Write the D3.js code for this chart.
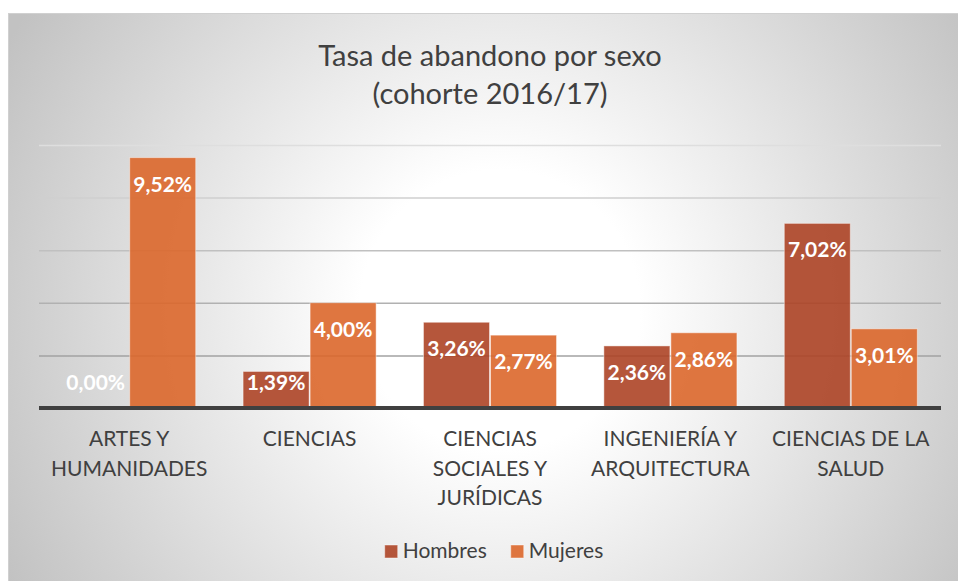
<!DOCTYPE html>
<html>
<head>
<meta charset="utf-8">
<script src="https://cdn.jsdelivr.net/npm/d3@7"></script>
<style>
  html, body { margin: 0; padding: 0; background: #fff; }
  svg { display: block; font-family: Lato, "Open Sans", sans-serif; }
</style>
</head>
<body>
<div id="chart"></div>
<script>
// values (percent)
const categories = ['ARTES Y\nHUMANIDADES', 'CIENCIAS', 'CIENCIAS\nSOCIALES Y\nJURÍDICAS', 'INGENIERÍA Y\nARQUITECTURA', 'CIENCIAS DE LA\nSALUD'];
const seriesNames = ['Hombres', 'Mujeres'];
const hombres = [0.00, 1.39, 3.26, 2.36, 7.02];
const mujeres = [9.52, 4.00, 2.77, 2.86, 3.01];
const gridTicks = [0, 2, 4, 6, 8, 10];
const titleLines = ['Tasa de abandono por sexo', '(cohorte 2016/17)'];

class GroupedBars {

    constructor(_config, _data) {
        this.config = {
            parentElement: _config.parentElement,
            containerWidth: _config.containerWidth || 958,
            containerHeight: _config.containerHeight || 581,
            plot: _config.plot || {left: 39, right: 941, top: 145, bottom: 408}
        };
        this.data = _data;
        this.initVis();
    }

    initVis() {
        let vis = this;
        const p = vis.config.plot;

        vis.svg = d3.select(vis.config.parentElement)
            .append('svg')
            .attr('width', vis.config.containerWidth)
            .attr('height', vis.config.containerHeight);

        // soft radial background like the office chart area
        const grad = vis.svg.append('defs').append('radialGradient')
            .attr('id', 'bg')
            .attr('gradientUnits', 'userSpaceOnUse')
            .attr('cx', 500).attr('cy', 310).attr('r', 560);
        grad.append('stop').attr('offset', 0).attr('stop-color', '#ffffff');
        grad.append('stop').attr('offset', 0.25).attr('stop-color', '#ffffff');
        grad.append('stop').attr('offset', 1).attr('stop-color', '#c2c2c2');

        vis.svg.append('rect')
            .attr('x', 8.5).attr('y', 13.5)
            .attr('width', 980).attr('height', 600)
            .attr('fill', 'url(#bg)')
            .attr('stroke', '#d0d0d0');

        vis.x0 = d3.scaleBand()
            .domain(categories)
            .range([p.left, p.right])
            .paddingInner(0.257)
            .paddingOuter(0.1285);

        vis.x1 = d3.scaleBand()
            .domain(seriesNames)
            .range([0, vis.x0.bandwidth()]);

        vis.y = d3.scaleLinear()
            .domain([0, 10])
            .range([p.bottom, p.top]);

        vis.color = d3.scaleOrdinal()
            .domain(seriesNames)
            .range(['#ad4426', '#db672b']);

        // gridlines fade out towards the top
        vis.gridColor = d3.scaleLinear()
            .domain([2, 10])
            .range(['#a2a2a2', '#dedede']);

        vis.chart = vis.svg.append('g');
        vis.renderVis();
    }

    renderVis() {
        let vis = this;
        const p = vis.config.plot;

        // gridlines
        vis.chart.append('g')
            .attr('transform', `translate(${p.left},0)`)
            .call(d3.axisLeft(vis.y).tickValues(gridTicks.slice(1)).tickSize(-(p.right - p.left)).tickFormat(''))
            .call(g => g.select('.domain').remove())
            .call(g => g.selectAll('line').attr('stroke', d => vis.gridColor(d)).attr('stroke-width', 1.5));

        const groups = vis.chart.selectAll('.group')
            .data(vis.data)
            .join('g')
            .attr('class', 'group')
            .attr('transform', d => `translate(${vis.x0(d.category)},0)`);

        const bars = groups.selectAll('.bar')
            .data(d => seriesNames.map(s => ({key: s, value: d[s]})))
            .join('g')
            .attr('class', 'bar');

        bars.append('rect')
            .attr('x', d => vis.x1(d.key) + 0.5)
            .attr('y', d => vis.y(d.value))
            .attr('width', vis.x1.bandwidth() - 1)
            .attr('height', d => vis.y(0) - vis.y(d.value))
            .attr('fill', d => vis.color(d.key))
            .attr('fill-opacity', 0.9)
            .attr('stroke', '#ffffff')
            .attr('stroke-opacity', 0.45)
            .attr('stroke-width', 1);

        bars.append('text')
            .attr('x', d => vis.x1(d.key) + vis.x1.bandwidth() / 2)
            .attr('y', d => Math.min(vis.y(d.value) + 34, 390))
            .attr('text-anchor', 'middle')
            .attr('fill', '#ffffff')
            .style('font-size', '21px')
            .style('font-weight', 'bold')
            .text(d => d3.format('.2f')(d.value).replace('.', ',') + '%');

        // baseline
        vis.chart.append('line')
            .attr('x1', p.left).attr('x2', p.right)
            .attr('y1', vis.y(0)).attr('y2', vis.y(0))
            .attr('stroke', '#404040')
            .attr('stroke-width', 4);

        // category labels
        const xAxis = vis.chart.append('g')
            .attr('transform', `translate(0,${p.bottom})`)
            .call(d3.axisBottom(vis.x0).tickSize(0).tickPadding(0));
        xAxis.select('.domain').remove();
        xAxis.selectAll('.tick text').each(function(d) {
            const t = d3.select(this).text(null)
                .attr('y', 0).attr('dy', null)
                .attr('fill', '#404040')
                .style('font-size', '21px')
                .style('font-family', 'Lato, sans-serif');
            d.split('\n').forEach((line, i) => {
                t.append('tspan').attr('x', 0).attr('y', 38 + i * 29.5).text(line);
            });
        });

        // title
        vis.svg.selectAll('.title')
            .data(titleLines)
            .join('text')
            .attr('class', 'title')
            .attr('x', 490)
            .attr('y', (d, i) => 66 + i * 38)
            .attr('text-anchor', 'middle')
            .attr('fill', '#404040')
            .style('font-size', '29px')
            .text(d => d);

        // legend
        const legend = vis.svg.append('g');
        const items = legend.selectAll('.item')
            .data(seriesNames)
            .join('g')
            .attr('class', 'item');
        items.append('rect')
            .attr('width', 13).attr('height', 13)
            .attr('y', 545)
            .attr('fill', d => vis.color(d))
            .attr('fill-opacity', 0.9)
            .attr('stroke', '#ffffff').attr('stroke-opacity', 0.45);
        items.append('text')
            .attr('x', 18)
            .attr('y', 558)
            .attr('fill', '#404040')
            .style('font-size', '21px')
            .text(d => d);
        let xPos = 0;
        items.each(function() {
            const w = this.getBBox().width;
            d3.select(this).attr('transform', `translate(${xPos},0)`);
            xPos += w + 24;
        });
        const totalW = xPos - 24;
        legend.attr('transform', `translate(${494 - totalW / 2},0)`);
    }
}

const data = categories.map((c, i) => ({category: c, Hombres: hombres[i], Mujeres: mujeres[i]}));
new GroupedBars({parentElement: '#chart'}, data);
</script>
</body>
</html>
